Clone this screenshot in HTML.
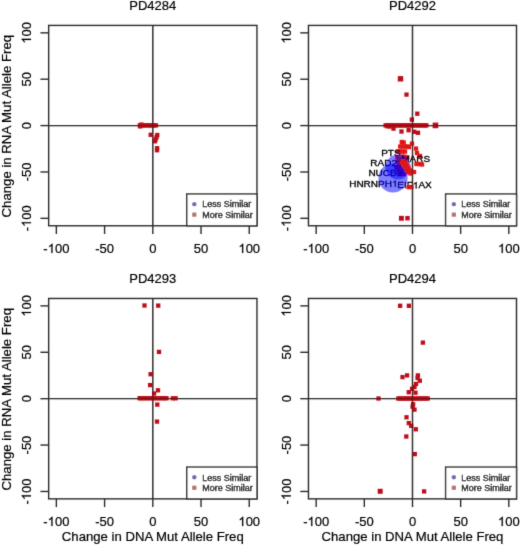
<!DOCTYPE html>
<html><head><meta charset="utf-8"><style>
html,body{margin:0;padding:0;background:#fff;width:520px;height:546px;overflow:hidden}
#wrap{position:relative;width:520px;height:546px}
</style></head><body><div id="wrap">
<svg width="520" height="546" viewBox="0 0 520 546" style="position:absolute;left:0;top:0">
<defs><filter id="soft" x="0" y="0" width="520" height="546" filterUnits="userSpaceOnUse"><feConvolveMatrix order="3" kernelMatrix="0.012 0.084 0.012 0.084 0.616 0.084 0.012 0.084 0.012" divisor="1" edgeMode="none"/></filter></defs>
<rect x="0" y="0" width="520" height="546" fill="#ffffff"/>
<g filter="url(#soft)">
<g><line x1="48.65" y1="125.59" x2="256.95" y2="125.59" stroke="#454545" stroke-width="1.4"/><line x1="152.8" y1="25.42" x2="152.8" y2="225.76" stroke="#454545" stroke-width="1.4"/><rect x="137.65" y="123.25" width="4.3" height="4.3" fill="#bd101a"/><rect x="138.45" y="123.25" width="4.3" height="4.3" fill="#bd101a"/><rect x="139.35" y="123.25" width="4.3" height="4.3" fill="#bd101a"/><rect x="140.85" y="123.25" width="4.3" height="4.3" fill="#bd101a"/><rect x="142.85" y="123.25" width="4.3" height="4.3" fill="#bd101a"/><rect x="144.85" y="123.25" width="4.3" height="4.3" fill="#bd101a"/><rect x="146.85" y="123.25" width="4.3" height="4.3" fill="#bd101a"/><rect x="148.85" y="123.25" width="4.3" height="4.3" fill="#bd101a"/><rect x="150.35" y="123.25" width="4.3" height="4.3" fill="#bd101a"/><rect x="151.85" y="123.25" width="4.3" height="4.3" fill="#bd101a"/><rect x="153.85" y="123.25" width="4.3" height="4.3" fill="#bd101a"/><rect x="138.05" y="124.25" width="4.3" height="4.3" fill="#bd101a"/><rect x="139.25" y="122.45" width="4.3" height="4.3" fill="#bd101a"/><rect x="148.55" y="132.65" width="4.3" height="4.3" fill="#bd101a"/><rect x="155.15" y="132.85" width="4.3" height="4.3" fill="#bd101a"/><rect x="154.35" y="135.15" width="4.3" height="4.3" fill="#bd101a"/><rect x="153.45" y="137.45" width="4.3" height="4.3" fill="#bd101a"/><rect x="152.75" y="139.15" width="4.3" height="4.3" fill="#bd101a"/><rect x="154.95" y="146.05" width="4.3" height="4.3" fill="#bd101a"/><rect x="154.85" y="148.05" width="4.3" height="4.3" fill="#bd101a"/><line x1="48.65" y1="125.59" x2="256.95" y2="125.59" stroke="rgba(30,20,20,0.4)" stroke-width="1.4"/><line x1="152.8" y1="25.42" x2="152.8" y2="225.76" stroke="rgba(30,20,20,0.4)" stroke-width="1.4"/><rect x="48.65" y="25.42" width="208.3" height="200.34" fill="none" stroke="#2c2c2c" stroke-width="1.4"/><line x1="56.36" y1="225.76" x2="56.36" y2="233.96" stroke="#2c2c2c" stroke-width="1.4"/><g transform="translate(56.36,253.01)"><text x="-13.010" y="0" style="font-family:'Liberation Sans', sans-serif;fill:#000;stroke:#000;stroke-width:0.2px;font-size:13px">-</text><path d="M763 0L583 0L583 1147Q518 1085 412 1023Q307 961 223 930L223 1104Q374 1175 487 1276Q600 1377 647 1472L763 1472Z" transform="translate(-8.680,0) scale(0.006348,-0.006348)" fill="#000" stroke="#000" stroke-width="31.5"/><text x="-1.450" y="0" style="font-family:'Liberation Sans', sans-serif;fill:#000;stroke:#000;stroke-width:0.2px;font-size:13px">00</text></g><line x1="48.65" y1="218.34" x2="40.45" y2="218.34" stroke="#2c2c2c" stroke-width="1.4"/><g transform="translate(30.95,218.34) rotate(-90)"><text x="-13.010" y="0" style="font-family:'Liberation Sans', sans-serif;fill:#000;stroke:#000;stroke-width:0.2px;font-size:13px">-</text><path d="M763 0L583 0L583 1147Q518 1085 412 1023Q307 961 223 930L223 1104Q374 1175 487 1276Q600 1377 647 1472L763 1472Z" transform="translate(-8.680,0) scale(0.006348,-0.006348)" fill="#000" stroke="#000" stroke-width="31.5"/><text x="-1.450" y="0" style="font-family:'Liberation Sans', sans-serif;fill:#000;stroke:#000;stroke-width:0.2px;font-size:13px">00</text></g><line x1="104.58" y1="225.76" x2="104.58" y2="233.96" stroke="#2c2c2c" stroke-width="1.4"/><g transform="translate(104.58,253.01)"><text x="-9.395" y="0" style="font-family:'Liberation Sans', sans-serif;fill:#000;stroke:#000;stroke-width:0.2px;font-size:13px">-50</text></g><line x1="48.65" y1="171.97" x2="40.45" y2="171.97" stroke="#2c2c2c" stroke-width="1.4"/><g transform="translate(30.95,171.97) rotate(-90)"><text x="-9.395" y="0" style="font-family:'Liberation Sans', sans-serif;fill:#000;stroke:#000;stroke-width:0.2px;font-size:13px">-50</text></g><line x1="152.8" y1="225.76" x2="152.8" y2="233.96" stroke="#2c2c2c" stroke-width="1.4"/><g transform="translate(152.8,253.01)"><text x="-3.615" y="0" style="font-family:'Liberation Sans', sans-serif;fill:#000;stroke:#000;stroke-width:0.2px;font-size:13px">0</text></g><line x1="48.65" y1="125.59" x2="40.45" y2="125.59" stroke="#2c2c2c" stroke-width="1.4"/><g transform="translate(30.95,125.59) rotate(-90)"><text x="-3.615" y="0" style="font-family:'Liberation Sans', sans-serif;fill:#000;stroke:#000;stroke-width:0.2px;font-size:13px">0</text></g><line x1="201.02" y1="225.76" x2="201.02" y2="233.96" stroke="#2c2c2c" stroke-width="1.4"/><g transform="translate(201.02,253.01)"><text x="-7.230" y="0" style="font-family:'Liberation Sans', sans-serif;fill:#000;stroke:#000;stroke-width:0.2px;font-size:13px">50</text></g><line x1="48.65" y1="79.22" x2="40.45" y2="79.22" stroke="#2c2c2c" stroke-width="1.4"/><g transform="translate(30.95,79.22) rotate(-90)"><text x="-7.230" y="0" style="font-family:'Liberation Sans', sans-serif;fill:#000;stroke:#000;stroke-width:0.2px;font-size:13px">50</text></g><line x1="249.24" y1="225.76" x2="249.24" y2="233.96" stroke="#2c2c2c" stroke-width="1.4"/><g transform="translate(249.24,253.01)"><path d="M763 0L583 0L583 1147Q518 1085 412 1023Q307 961 223 930L223 1104Q374 1175 487 1276Q600 1377 647 1472L763 1472Z" transform="translate(-10.845,0) scale(0.006348,-0.006348)" fill="#000" stroke="#000" stroke-width="31.5"/><text x="-3.615" y="0" style="font-family:'Liberation Sans', sans-serif;fill:#000;stroke:#000;stroke-width:0.2px;font-size:13px">00</text></g><line x1="48.65" y1="32.84" x2="40.45" y2="32.84" stroke="#2c2c2c" stroke-width="1.4"/><g transform="translate(30.95,32.84) rotate(-90)"><path d="M763 0L583 0L583 1147Q518 1085 412 1023Q307 961 223 930L223 1104Q374 1175 487 1276Q600 1377 647 1472L763 1472Z" transform="translate(-10.845,0) scale(0.006348,-0.006348)" fill="#000" stroke="#000" stroke-width="31.5"/><text x="-3.615" y="0" style="font-family:'Liberation Sans', sans-serif;fill:#000;stroke:#000;stroke-width:0.2px;font-size:13px">00</text></g><text x="152.8" y="10.32" text-anchor="middle" style="font-family:'Liberation Sans', sans-serif;fill:#000;stroke:#000;stroke-width:0.2px;font-size:13px">PD4284</text><text transform="translate(10.9,126.19) rotate(-90)" text-anchor="middle" style="font-family:'Liberation Sans', sans-serif;fill:#000;stroke:#000;stroke-width:0.2px;font-size:13.2px">Change in RNA Mut Allele Freq</text><rect x="186.75" y="193.96" width="70.2" height="31.8" fill="#fff" stroke="#2c2c2c" stroke-width="1.4"/><circle cx="194.3" cy="204.16" r="2.2" fill="#6c6cac"/><rect x="192.2" y="212.56" width="4.2" height="4.2" fill="#b27272"/><text transform="translate(202.3,207.41) scale(1,1.1)" style="font-family:'Liberation Sans', sans-serif;fill:#000;stroke:#000;stroke-width:0.2px;font-size:9px;stroke-width:0.35px">Less Similar</text><text transform="translate(202.3,217.71) scale(1,1.1)" style="font-family:'Liberation Sans', sans-serif;fill:#000;stroke:#000;stroke-width:0.2px;font-size:9px;stroke-width:0.35px">More Similar</text></g>
<g><line x1="308.47" y1="125.59" x2="516.5" y2="125.59" stroke="#454545" stroke-width="1.4"/><line x1="412.49" y1="25.42" x2="412.49" y2="225.76" stroke="#454545" stroke-width="1.4"/><rect x="397.8" y="76.1" width="5.4" height="5.4" fill="#bd101a"/><rect x="404.35" y="92.45" width="4.3" height="4.3" fill="#bd101a"/><rect x="415.15" y="111.55" width="4.3" height="4.3" fill="#bd101a"/><rect x="409.75" y="117.45" width="4.3" height="4.3" fill="#bd101a"/><rect x="432.65" y="122.6" width="5.6" height="5.6" fill="#bd101a"/><rect x="391.35" y="126.45" width="4.3" height="4.3" fill="#bd101a"/><rect x="399.35" y="129.35" width="4.3" height="4.3" fill="#bd101a"/><rect x="406.45" y="128.05" width="4.3" height="4.3" fill="#bd101a"/><rect x="412.05" y="129.65" width="4.3" height="4.3" fill="#bd101a"/><rect x="415.85" y="130.65" width="4.3" height="4.3" fill="#bd101a"/><rect x="398.95" y="215.85" width="4.9" height="4.9" fill="#bd101a"/><rect x="405.3" y="216" width="4.4" height="4.4" fill="#bd101a"/><rect x="383.45" y="123.25" width="4.3" height="4.3" fill="#bd101a"/><rect x="384.85" y="123.25" width="4.3" height="4.3" fill="#bd101a"/><rect x="386.85" y="123.25" width="4.3" height="4.3" fill="#bd101a"/><rect x="388.85" y="123.25" width="4.3" height="4.3" fill="#bd101a"/><rect x="390.85" y="123.25" width="4.3" height="4.3" fill="#bd101a"/><rect x="392.85" y="123.25" width="4.3" height="4.3" fill="#bd101a"/><rect x="394.85" y="123.25" width="4.3" height="4.3" fill="#bd101a"/><rect x="396.85" y="123.25" width="4.3" height="4.3" fill="#bd101a"/><rect x="398.85" y="123.25" width="4.3" height="4.3" fill="#bd101a"/><rect x="400.85" y="123.25" width="4.3" height="4.3" fill="#bd101a"/><rect x="402.85" y="123.25" width="4.3" height="4.3" fill="#bd101a"/><rect x="404.85" y="123.25" width="4.3" height="4.3" fill="#bd101a"/><rect x="406.85" y="123.25" width="4.3" height="4.3" fill="#bd101a"/><rect x="408.85" y="123.25" width="4.3" height="4.3" fill="#bd101a"/><rect x="410.85" y="123.25" width="4.3" height="4.3" fill="#bd101a"/><rect x="412.85" y="123.25" width="4.3" height="4.3" fill="#bd101a"/><rect x="414.85" y="123.25" width="4.3" height="4.3" fill="#bd101a"/><rect x="416.85" y="123.25" width="4.3" height="4.3" fill="#bd101a"/><rect x="418.85" y="123.25" width="4.3" height="4.3" fill="#bd101a"/><rect x="420.85" y="123.25" width="4.3" height="4.3" fill="#bd101a"/><rect x="422.85" y="123.25" width="4.3" height="4.3" fill="#bd101a"/><rect x="424.25" y="123.25" width="4.3" height="4.3" fill="#bd101a"/><rect x="385.35" y="124.15" width="4.3" height="4.3" fill="#bd101a"/><rect x="387.85" y="124.35" width="4.3" height="4.3" fill="#bd101a"/><rect x="401.55" y="140.35" width="4.3" height="4.3" fill="#e01414"/><rect x="399.65" y="139.85" width="4.3" height="4.3" fill="#e01414"/><rect x="409.85" y="141.45" width="4.3" height="4.3" fill="#e01414"/><rect x="398.05" y="144.35" width="4.3" height="4.3" fill="#e01414"/><rect x="400.35" y="144.35" width="4.3" height="4.3" fill="#e01414"/><rect x="402.85" y="144.35" width="4.3" height="4.3" fill="#e01414"/><rect x="405.35" y="144.35" width="4.3" height="4.3" fill="#e01414"/><rect x="406.85" y="144.85" width="4.3" height="4.3" fill="#e01414"/><rect x="413.85" y="146.45" width="4.3" height="4.3" fill="#e01414"/><rect x="395.35" y="149.35" width="4.3" height="4.3" fill="#e01414"/><rect x="397.85" y="149.35" width="4.3" height="4.3" fill="#e01414"/><rect x="400.35" y="149.35" width="4.3" height="4.3" fill="#e01414"/><rect x="402.85" y="149.35" width="4.3" height="4.3" fill="#e01414"/><rect x="414.85" y="150.85" width="4.3" height="4.3" fill="#e01414"/><rect x="417.85" y="153.85" width="4.3" height="4.3" fill="#e01414"/><rect x="400.35" y="154.35" width="4.3" height="4.3" fill="#e01414"/><rect x="402.85" y="154.65" width="4.3" height="4.3" fill="#e01414"/><rect x="405.15" y="155.35" width="4.3" height="4.3" fill="#e01414"/><rect x="394.35" y="165.85" width="4.3" height="4.3" fill="#e01414"/><rect x="396.35" y="169.85" width="4.3" height="4.3" fill="#e01414"/><rect x="399.85" y="167.35" width="4.3" height="4.3" fill="#e01414"/><rect x="401.35" y="171.85" width="4.3" height="4.3" fill="#e01414"/><rect x="395.85" y="159.85" width="4.3" height="4.3" fill="#e01414"/><rect x="396.85" y="163.85" width="4.3" height="4.3" fill="#e01414"/><rect x="397.85" y="167.85" width="4.3" height="4.3" fill="#e01414"/><rect x="398.85" y="171.35" width="4.3" height="4.3" fill="#e01414"/><rect x="395.35" y="155.35" width="4.3" height="4.3" fill="#e01414"/><rect x="397.35" y="156.85" width="4.3" height="4.3" fill="#e01414"/><g transform="translate(381.2,155.6) scale(1,0.89)"><text x="0.000" y="0" style="font-family:'Liberation Sans', sans-serif;fill:#000;stroke:#000;stroke-width:0.2px;font-size:10px;stroke-width:0.35px">PTS</text></g><g transform="translate(401.2,161.9) scale(1,0.89)"><text x="0.000" y="0" style="font-family:'Liberation Sans', sans-serif;fill:#000;stroke:#000;stroke-width:0.2px;font-size:10px;stroke-width:0.35px">MARS</text></g><g transform="translate(370.3,166.3) scale(1,0.89)"><text x="0.000" y="0" style="font-family:'Liberation Sans', sans-serif;fill:#000;stroke:#000;stroke-width:0.2px;font-size:10px;stroke-width:0.35px">RAD2</text><path d="M763 0L583 0L583 1147Q518 1085 412 1023Q307 961 223 930L223 1104Q374 1175 487 1276Q600 1377 647 1472L763 1472Z" transform="translate(26.675,0) scale(0.004883,-0.004883)" fill="#000" stroke="#000" stroke-width="71.7"/></g><g transform="translate(368.4,176.4) scale(1,0.89)"><text x="0.000" y="0" style="font-family:'Liberation Sans', sans-serif;fill:#000;stroke:#000;stroke-width:0.2px;font-size:10px;stroke-width:0.35px">NUCB2</text></g><g transform="translate(349.2,186.8) scale(1,0.89)"><text x="0.000" y="0" style="font-family:'Liberation Sans', sans-serif;fill:#000;stroke:#000;stroke-width:0.2px;font-size:10px;stroke-width:0.35px">HNRNPH</text><path d="M763 0L583 0L583 1147Q518 1085 412 1023Q307 961 223 930L223 1104Q374 1175 487 1276Q600 1377 647 1472L763 1472Z" transform="translate(42.778,0) scale(0.004883,-0.004883)" fill="#000" stroke="#000" stroke-width="71.7"/></g><g transform="translate(397.3,188.4) scale(1,0.89)"><text x="0.000" y="0" style="font-family:'Liberation Sans', sans-serif;fill:#000;stroke:#000;stroke-width:0.2px;font-size:10px;stroke-width:0.35px">EIF</text><path d="M763 0L583 0L583 1147Q518 1085 412 1023Q307 961 223 930L223 1104Q374 1175 487 1276Q600 1377 647 1472L763 1472Z" transform="translate(15.557,0) scale(0.004883,-0.004883)" fill="#000" stroke="#000" stroke-width="71.7"/><text x="21.118" y="0" style="font-family:'Liberation Sans', sans-serif;fill:#000;stroke:#000;stroke-width:0.2px;font-size:10px;stroke-width:0.35px">AX</text></g><circle cx="393.0" cy="178.0" r="14.6" fill="rgba(0,0,255,0.5)"/><circle cx="398.0" cy="167.0" r="12.5" fill="rgba(0,0,255,0.5)"/><rect x="399.35" y="160.35" width="4.3" height="4.3" fill="#e01414"/><rect x="401.35" y="162.35" width="4.3" height="4.3" fill="#e01414"/><rect x="402.85" y="164.85" width="4.3" height="4.3" fill="#e01414"/><rect x="404.35" y="167.35" width="4.3" height="4.3" fill="#e01414"/><rect x="406.15" y="169.85" width="4.3" height="4.3" fill="#e01414"/><rect x="408.35" y="171.35" width="4.3" height="4.3" fill="#e01414"/><rect x="400.85" y="158.85" width="4.3" height="4.3" fill="#e01414"/><rect x="403.35" y="160.35" width="4.3" height="4.3" fill="#e01414"/><rect x="404.85" y="163.35" width="4.3" height="4.3" fill="#e01414"/><rect x="406.35" y="165.85" width="4.3" height="4.3" fill="#e01414"/><rect x="407.85" y="168.35" width="4.3" height="4.3" fill="#e01414"/><rect x="411.85" y="169.85" width="4.3" height="4.3" fill="#e01414"/><rect x="414.35" y="161.85" width="4.3" height="4.3" fill="#e01414"/><rect x="417.35" y="161.85" width="4.3" height="4.3" fill="#e01414"/><rect x="419.85" y="162.35" width="4.3" height="4.3" fill="#e01414"/><rect x="406.45" y="184.95" width="4.3" height="4.3" fill="#e01414"/><rect x="409.25" y="184.95" width="4.3" height="4.3" fill="#e01414"/><line x1="308.47" y1="125.59" x2="516.5" y2="125.59" stroke="rgba(30,20,20,0.4)" stroke-width="1.4"/><line x1="412.49" y1="25.42" x2="412.49" y2="225.76" stroke="rgba(30,20,20,0.4)" stroke-width="1.4"/><rect x="308.47" y="25.42" width="208.03" height="200.34" fill="none" stroke="#2c2c2c" stroke-width="1.4"/><line x1="316.17" y1="225.76" x2="316.17" y2="233.96" stroke="#2c2c2c" stroke-width="1.4"/><g transform="translate(316.17,253.01)"><text x="-13.010" y="0" style="font-family:'Liberation Sans', sans-serif;fill:#000;stroke:#000;stroke-width:0.2px;font-size:13px">-</text><path d="M763 0L583 0L583 1147Q518 1085 412 1023Q307 961 223 930L223 1104Q374 1175 487 1276Q600 1377 647 1472L763 1472Z" transform="translate(-8.680,0) scale(0.006348,-0.006348)" fill="#000" stroke="#000" stroke-width="31.5"/><text x="-1.450" y="0" style="font-family:'Liberation Sans', sans-serif;fill:#000;stroke:#000;stroke-width:0.2px;font-size:13px">00</text></g><line x1="308.47" y1="218.34" x2="300.27" y2="218.34" stroke="#2c2c2c" stroke-width="1.4"/><g transform="translate(290.77,218.34) rotate(-90)"><text x="-13.010" y="0" style="font-family:'Liberation Sans', sans-serif;fill:#000;stroke:#000;stroke-width:0.2px;font-size:13px">-</text><path d="M763 0L583 0L583 1147Q518 1085 412 1023Q307 961 223 930L223 1104Q374 1175 487 1276Q600 1377 647 1472L763 1472Z" transform="translate(-8.680,0) scale(0.006348,-0.006348)" fill="#000" stroke="#000" stroke-width="31.5"/><text x="-1.450" y="0" style="font-family:'Liberation Sans', sans-serif;fill:#000;stroke:#000;stroke-width:0.2px;font-size:13px">00</text></g><line x1="364.33" y1="225.76" x2="364.33" y2="233.96" stroke="#2c2c2c" stroke-width="1.4"/><g transform="translate(364.33,253.01)"><text x="-9.395" y="0" style="font-family:'Liberation Sans', sans-serif;fill:#000;stroke:#000;stroke-width:0.2px;font-size:13px">-50</text></g><line x1="308.47" y1="171.97" x2="300.27" y2="171.97" stroke="#2c2c2c" stroke-width="1.4"/><g transform="translate(290.77,171.97) rotate(-90)"><text x="-9.395" y="0" style="font-family:'Liberation Sans', sans-serif;fill:#000;stroke:#000;stroke-width:0.2px;font-size:13px">-50</text></g><line x1="412.49" y1="225.76" x2="412.49" y2="233.96" stroke="#2c2c2c" stroke-width="1.4"/><g transform="translate(412.49,253.01)"><text x="-3.615" y="0" style="font-family:'Liberation Sans', sans-serif;fill:#000;stroke:#000;stroke-width:0.2px;font-size:13px">0</text></g><line x1="308.47" y1="125.59" x2="300.27" y2="125.59" stroke="#2c2c2c" stroke-width="1.4"/><g transform="translate(290.77,125.59) rotate(-90)"><text x="-3.615" y="0" style="font-family:'Liberation Sans', sans-serif;fill:#000;stroke:#000;stroke-width:0.2px;font-size:13px">0</text></g><line x1="460.64" y1="225.76" x2="460.64" y2="233.96" stroke="#2c2c2c" stroke-width="1.4"/><g transform="translate(460.64,253.01)"><text x="-7.230" y="0" style="font-family:'Liberation Sans', sans-serif;fill:#000;stroke:#000;stroke-width:0.2px;font-size:13px">50</text></g><line x1="308.47" y1="79.22" x2="300.27" y2="79.22" stroke="#2c2c2c" stroke-width="1.4"/><g transform="translate(290.77,79.22) rotate(-90)"><text x="-7.230" y="0" style="font-family:'Liberation Sans', sans-serif;fill:#000;stroke:#000;stroke-width:0.2px;font-size:13px">50</text></g><line x1="508.8" y1="225.76" x2="508.8" y2="233.96" stroke="#2c2c2c" stroke-width="1.4"/><g transform="translate(508.8,253.01)"><path d="M763 0L583 0L583 1147Q518 1085 412 1023Q307 961 223 930L223 1104Q374 1175 487 1276Q600 1377 647 1472L763 1472Z" transform="translate(-10.845,0) scale(0.006348,-0.006348)" fill="#000" stroke="#000" stroke-width="31.5"/><text x="-3.615" y="0" style="font-family:'Liberation Sans', sans-serif;fill:#000;stroke:#000;stroke-width:0.2px;font-size:13px">00</text></g><line x1="308.47" y1="32.84" x2="300.27" y2="32.84" stroke="#2c2c2c" stroke-width="1.4"/><g transform="translate(290.77,32.84) rotate(-90)"><path d="M763 0L583 0L583 1147Q518 1085 412 1023Q307 961 223 930L223 1104Q374 1175 487 1276Q600 1377 647 1472L763 1472Z" transform="translate(-10.845,0) scale(0.006348,-0.006348)" fill="#000" stroke="#000" stroke-width="31.5"/><text x="-3.615" y="0" style="font-family:'Liberation Sans', sans-serif;fill:#000;stroke:#000;stroke-width:0.2px;font-size:13px">00</text></g><text x="412.49" y="10.32" text-anchor="middle" style="font-family:'Liberation Sans', sans-serif;fill:#000;stroke:#000;stroke-width:0.2px;font-size:13px">PD4292</text><rect x="445.6" y="193.96" width="70.9" height="31.8" fill="#fff" stroke="#2c2c2c" stroke-width="1.4"/><circle cx="453.85" cy="204.16" r="2.2" fill="#6c6cac"/><rect x="451.75" y="212.56" width="4.2" height="4.2" fill="#b27272"/><text transform="translate(461.3,207.41) scale(1,1.1)" style="font-family:'Liberation Sans', sans-serif;fill:#000;stroke:#000;stroke-width:0.2px;font-size:9px;stroke-width:0.35px">Less Similar</text><text transform="translate(461.3,217.71) scale(1,1.1)" style="font-family:'Liberation Sans', sans-serif;fill:#000;stroke:#000;stroke-width:0.2px;font-size:9px;stroke-width:0.35px">More Similar</text></g>
<g><line x1="48.65" y1="398.67" x2="256.95" y2="398.67" stroke="#454545" stroke-width="1.4"/><line x1="152.8" y1="298.47" x2="152.8" y2="498.87" stroke="#454545" stroke-width="1.4"/><rect x="142.35" y="303.35" width="4.3" height="4.3" fill="#bd101a"/><rect x="156.05" y="303.45" width="4.3" height="4.3" fill="#bd101a"/><rect x="156.85" y="349.75" width="4.3" height="4.3" fill="#bd101a"/><rect x="148.45" y="372.05" width="4.3" height="4.3" fill="#bd101a"/><rect x="147.95" y="382.95" width="4.3" height="4.3" fill="#bd101a"/><rect x="155.85" y="388.15" width="4.3" height="4.3" fill="#bd101a"/><rect x="151.95" y="391.35" width="4.3" height="4.3" fill="#bd101a"/><rect x="155.15" y="402.45" width="4.3" height="4.3" fill="#bd101a"/><rect x="154.85" y="419.45" width="4.3" height="4.3" fill="#bd101a"/><rect x="170.65" y="396.15" width="4.3" height="4.3" fill="#bd101a"/><rect x="173.45" y="396.15" width="4.3" height="4.3" fill="#bd101a"/><rect x="137.45" y="396.05" width="4.3" height="4.3" fill="#bd101a"/><rect x="138.85" y="396.05" width="4.3" height="4.3" fill="#bd101a"/><rect x="140.85" y="396.05" width="4.3" height="4.3" fill="#bd101a"/><rect x="142.85" y="396.05" width="4.3" height="4.3" fill="#bd101a"/><rect x="144.85" y="396.05" width="4.3" height="4.3" fill="#bd101a"/><rect x="146.85" y="396.05" width="4.3" height="4.3" fill="#bd101a"/><rect x="148.85" y="396.05" width="4.3" height="4.3" fill="#bd101a"/><rect x="150.85" y="396.05" width="4.3" height="4.3" fill="#bd101a"/><rect x="152.85" y="396.05" width="4.3" height="4.3" fill="#bd101a"/><rect x="154.85" y="396.05" width="4.3" height="4.3" fill="#bd101a"/><rect x="156.85" y="396.05" width="4.3" height="4.3" fill="#bd101a"/><rect x="158.85" y="396.05" width="4.3" height="4.3" fill="#bd101a"/><rect x="160.85" y="396.05" width="4.3" height="4.3" fill="#bd101a"/><rect x="162.85" y="396.05" width="4.3" height="4.3" fill="#bd101a"/><rect x="164.35" y="396.05" width="4.3" height="4.3" fill="#bd101a"/><line x1="48.65" y1="398.67" x2="256.95" y2="398.67" stroke="rgba(30,20,20,0.4)" stroke-width="1.4"/><line x1="152.8" y1="298.47" x2="152.8" y2="498.87" stroke="rgba(30,20,20,0.4)" stroke-width="1.4"/><rect x="48.65" y="298.47" width="208.3" height="200.4" fill="none" stroke="#2c2c2c" stroke-width="1.4"/><line x1="56.36" y1="498.87" x2="56.36" y2="507.07" stroke="#2c2c2c" stroke-width="1.4"/><g transform="translate(56.36,526.12)"><text x="-13.010" y="0" style="font-family:'Liberation Sans', sans-serif;fill:#000;stroke:#000;stroke-width:0.2px;font-size:13px">-</text><path d="M763 0L583 0L583 1147Q518 1085 412 1023Q307 961 223 930L223 1104Q374 1175 487 1276Q600 1377 647 1472L763 1472Z" transform="translate(-8.680,0) scale(0.006348,-0.006348)" fill="#000" stroke="#000" stroke-width="31.5"/><text x="-1.450" y="0" style="font-family:'Liberation Sans', sans-serif;fill:#000;stroke:#000;stroke-width:0.2px;font-size:13px">00</text></g><line x1="48.65" y1="491.45" x2="40.45" y2="491.45" stroke="#2c2c2c" stroke-width="1.4"/><g transform="translate(30.95,491.45) rotate(-90)"><text x="-13.010" y="0" style="font-family:'Liberation Sans', sans-serif;fill:#000;stroke:#000;stroke-width:0.2px;font-size:13px">-</text><path d="M763 0L583 0L583 1147Q518 1085 412 1023Q307 961 223 930L223 1104Q374 1175 487 1276Q600 1377 647 1472L763 1472Z" transform="translate(-8.680,0) scale(0.006348,-0.006348)" fill="#000" stroke="#000" stroke-width="31.5"/><text x="-1.450" y="0" style="font-family:'Liberation Sans', sans-serif;fill:#000;stroke:#000;stroke-width:0.2px;font-size:13px">00</text></g><line x1="104.58" y1="498.87" x2="104.58" y2="507.07" stroke="#2c2c2c" stroke-width="1.4"/><g transform="translate(104.58,526.12)"><text x="-9.395" y="0" style="font-family:'Liberation Sans', sans-serif;fill:#000;stroke:#000;stroke-width:0.2px;font-size:13px">-50</text></g><line x1="48.65" y1="445.06" x2="40.45" y2="445.06" stroke="#2c2c2c" stroke-width="1.4"/><g transform="translate(30.95,445.06) rotate(-90)"><text x="-9.395" y="0" style="font-family:'Liberation Sans', sans-serif;fill:#000;stroke:#000;stroke-width:0.2px;font-size:13px">-50</text></g><line x1="152.8" y1="498.87" x2="152.8" y2="507.07" stroke="#2c2c2c" stroke-width="1.4"/><g transform="translate(152.8,526.12)"><text x="-3.615" y="0" style="font-family:'Liberation Sans', sans-serif;fill:#000;stroke:#000;stroke-width:0.2px;font-size:13px">0</text></g><line x1="48.65" y1="398.67" x2="40.45" y2="398.67" stroke="#2c2c2c" stroke-width="1.4"/><g transform="translate(30.95,398.67) rotate(-90)"><text x="-3.615" y="0" style="font-family:'Liberation Sans', sans-serif;fill:#000;stroke:#000;stroke-width:0.2px;font-size:13px">0</text></g><line x1="201.02" y1="498.87" x2="201.02" y2="507.07" stroke="#2c2c2c" stroke-width="1.4"/><g transform="translate(201.02,526.12)"><text x="-7.230" y="0" style="font-family:'Liberation Sans', sans-serif;fill:#000;stroke:#000;stroke-width:0.2px;font-size:13px">50</text></g><line x1="48.65" y1="352.28" x2="40.45" y2="352.28" stroke="#2c2c2c" stroke-width="1.4"/><g transform="translate(30.95,352.28) rotate(-90)"><text x="-7.230" y="0" style="font-family:'Liberation Sans', sans-serif;fill:#000;stroke:#000;stroke-width:0.2px;font-size:13px">50</text></g><line x1="249.24" y1="498.87" x2="249.24" y2="507.07" stroke="#2c2c2c" stroke-width="1.4"/><g transform="translate(249.24,526.12)"><path d="M763 0L583 0L583 1147Q518 1085 412 1023Q307 961 223 930L223 1104Q374 1175 487 1276Q600 1377 647 1472L763 1472Z" transform="translate(-10.845,0) scale(0.006348,-0.006348)" fill="#000" stroke="#000" stroke-width="31.5"/><text x="-3.615" y="0" style="font-family:'Liberation Sans', sans-serif;fill:#000;stroke:#000;stroke-width:0.2px;font-size:13px">00</text></g><line x1="48.65" y1="305.89" x2="40.45" y2="305.89" stroke="#2c2c2c" stroke-width="1.4"/><g transform="translate(30.95,305.89) rotate(-90)"><path d="M763 0L583 0L583 1147Q518 1085 412 1023Q307 961 223 930L223 1104Q374 1175 487 1276Q600 1377 647 1472L763 1472Z" transform="translate(-10.845,0) scale(0.006348,-0.006348)" fill="#000" stroke="#000" stroke-width="31.5"/><text x="-3.615" y="0" style="font-family:'Liberation Sans', sans-serif;fill:#000;stroke:#000;stroke-width:0.2px;font-size:13px">00</text></g><text x="152.8" y="283.37" text-anchor="middle" style="font-family:'Liberation Sans', sans-serif;fill:#000;stroke:#000;stroke-width:0.2px;font-size:13px">PD4293</text><text transform="translate(10.9,399.27) rotate(-90)" text-anchor="middle" style="font-family:'Liberation Sans', sans-serif;fill:#000;stroke:#000;stroke-width:0.2px;font-size:13.2px">Change in RNA Mut Allele Freq</text><text x="152.8" y="541.27" text-anchor="middle" style="font-family:'Liberation Sans', sans-serif;fill:#000;stroke:#000;stroke-width:0.2px;font-size:13.15px">Change in DNA Mut Allele Freq</text><rect x="186.75" y="467.07" width="70.2" height="31.8" fill="#fff" stroke="#2c2c2c" stroke-width="1.4"/><circle cx="194.3" cy="477.27" r="2.2" fill="#6c6cac"/><rect x="192.2" y="485.67" width="4.2" height="4.2" fill="#b27272"/><text transform="translate(202.3,480.52) scale(1,1.1)" style="font-family:'Liberation Sans', sans-serif;fill:#000;stroke:#000;stroke-width:0.2px;font-size:9px;stroke-width:0.35px">Less Similar</text><text transform="translate(202.3,490.82) scale(1,1.1)" style="font-family:'Liberation Sans', sans-serif;fill:#000;stroke:#000;stroke-width:0.2px;font-size:9px;stroke-width:0.35px">More Similar</text></g>
<g><line x1="308.47" y1="398.67" x2="516.5" y2="398.67" stroke="#454545" stroke-width="1.4"/><line x1="412.49" y1="298.47" x2="412.49" y2="498.87" stroke="#454545" stroke-width="1.4"/><rect x="397.95" y="303.65" width="4.3" height="4.3" fill="#bd101a"/><rect x="406.75" y="303.65" width="4.3" height="4.3" fill="#bd101a"/><rect x="420.75" y="340.45" width="4.3" height="4.3" fill="#bd101a"/><rect x="400.35" y="374.95" width="4.3" height="4.3" fill="#bd101a"/><rect x="404.95" y="373.25" width="4.3" height="4.3" fill="#bd101a"/><rect x="415.75" y="373.25" width="4.3" height="4.3" fill="#bd101a"/><rect x="417.65" y="378.55" width="4.3" height="4.3" fill="#bd101a"/><rect x="413.85" y="381.85" width="4.3" height="4.3" fill="#bd101a"/><rect x="412.35" y="384.75" width="4.3" height="4.3" fill="#bd101a"/><rect x="406.65" y="390.05" width="4.3" height="4.3" fill="#bd101a"/><rect x="409.95" y="386.65" width="4.3" height="4.3" fill="#bd101a"/><rect x="413.35" y="390.55" width="4.3" height="4.3" fill="#bd101a"/><rect x="410.95" y="402.05" width="4.3" height="4.3" fill="#bd101a"/><rect x="410.45" y="404.55" width="4.3" height="4.3" fill="#bd101a"/><rect x="412.35" y="407.45" width="4.3" height="4.3" fill="#bd101a"/><rect x="404.35" y="415.15" width="4.3" height="4.3" fill="#bd101a"/><rect x="406.65" y="420.95" width="4.3" height="4.3" fill="#bd101a"/><rect x="409.05" y="423.65" width="4.3" height="4.3" fill="#bd101a"/><rect x="413.65" y="427.15" width="4.3" height="4.3" fill="#bd101a"/><rect x="404.15" y="434.35" width="4.3" height="4.3" fill="#bd101a"/><rect x="412.65" y="451.95" width="4.3" height="4.3" fill="#bd101a"/><rect x="377.7" y="488.8" width="5" height="5" fill="#bd101a"/><rect x="421.95" y="489.25" width="4.3" height="4.3" fill="#bd101a"/><rect x="376.35" y="396.35" width="4.3" height="4.3" fill="#bd101a"/><rect x="415.45" y="375.85" width="4.3" height="4.3" fill="#bd101a"/><rect x="396.15" y="396.35" width="4.3" height="4.3" fill="#bd101a"/><rect x="397.85" y="396.35" width="4.3" height="4.3" fill="#bd101a"/><rect x="399.85" y="396.35" width="4.3" height="4.3" fill="#bd101a"/><rect x="401.85" y="396.35" width="4.3" height="4.3" fill="#bd101a"/><rect x="403.85" y="396.35" width="4.3" height="4.3" fill="#bd101a"/><rect x="405.85" y="396.35" width="4.3" height="4.3" fill="#bd101a"/><rect x="407.85" y="396.35" width="4.3" height="4.3" fill="#bd101a"/><rect x="409.85" y="396.35" width="4.3" height="4.3" fill="#bd101a"/><rect x="411.85" y="396.35" width="4.3" height="4.3" fill="#bd101a"/><rect x="413.85" y="396.35" width="4.3" height="4.3" fill="#bd101a"/><rect x="415.85" y="396.35" width="4.3" height="4.3" fill="#bd101a"/><rect x="417.85" y="396.35" width="4.3" height="4.3" fill="#bd101a"/><rect x="419.85" y="396.35" width="4.3" height="4.3" fill="#bd101a"/><rect x="421.85" y="396.35" width="4.3" height="4.3" fill="#bd101a"/><rect x="423.85" y="396.35" width="4.3" height="4.3" fill="#bd101a"/><rect x="425.65" y="396.35" width="4.3" height="4.3" fill="#bd101a"/><line x1="308.47" y1="398.67" x2="516.5" y2="398.67" stroke="rgba(30,20,20,0.4)" stroke-width="1.4"/><line x1="412.49" y1="298.47" x2="412.49" y2="498.87" stroke="rgba(30,20,20,0.4)" stroke-width="1.4"/><rect x="308.47" y="298.47" width="208.03" height="200.4" fill="none" stroke="#2c2c2c" stroke-width="1.4"/><line x1="316.17" y1="498.87" x2="316.17" y2="507.07" stroke="#2c2c2c" stroke-width="1.4"/><g transform="translate(316.17,526.12)"><text x="-13.010" y="0" style="font-family:'Liberation Sans', sans-serif;fill:#000;stroke:#000;stroke-width:0.2px;font-size:13px">-</text><path d="M763 0L583 0L583 1147Q518 1085 412 1023Q307 961 223 930L223 1104Q374 1175 487 1276Q600 1377 647 1472L763 1472Z" transform="translate(-8.680,0) scale(0.006348,-0.006348)" fill="#000" stroke="#000" stroke-width="31.5"/><text x="-1.450" y="0" style="font-family:'Liberation Sans', sans-serif;fill:#000;stroke:#000;stroke-width:0.2px;font-size:13px">00</text></g><line x1="308.47" y1="491.45" x2="300.27" y2="491.45" stroke="#2c2c2c" stroke-width="1.4"/><g transform="translate(290.77,491.45) rotate(-90)"><text x="-13.010" y="0" style="font-family:'Liberation Sans', sans-serif;fill:#000;stroke:#000;stroke-width:0.2px;font-size:13px">-</text><path d="M763 0L583 0L583 1147Q518 1085 412 1023Q307 961 223 930L223 1104Q374 1175 487 1276Q600 1377 647 1472L763 1472Z" transform="translate(-8.680,0) scale(0.006348,-0.006348)" fill="#000" stroke="#000" stroke-width="31.5"/><text x="-1.450" y="0" style="font-family:'Liberation Sans', sans-serif;fill:#000;stroke:#000;stroke-width:0.2px;font-size:13px">00</text></g><line x1="364.33" y1="498.87" x2="364.33" y2="507.07" stroke="#2c2c2c" stroke-width="1.4"/><g transform="translate(364.33,526.12)"><text x="-9.395" y="0" style="font-family:'Liberation Sans', sans-serif;fill:#000;stroke:#000;stroke-width:0.2px;font-size:13px">-50</text></g><line x1="308.47" y1="445.06" x2="300.27" y2="445.06" stroke="#2c2c2c" stroke-width="1.4"/><g transform="translate(290.77,445.06) rotate(-90)"><text x="-9.395" y="0" style="font-family:'Liberation Sans', sans-serif;fill:#000;stroke:#000;stroke-width:0.2px;font-size:13px">-50</text></g><line x1="412.49" y1="498.87" x2="412.49" y2="507.07" stroke="#2c2c2c" stroke-width="1.4"/><g transform="translate(412.49,526.12)"><text x="-3.615" y="0" style="font-family:'Liberation Sans', sans-serif;fill:#000;stroke:#000;stroke-width:0.2px;font-size:13px">0</text></g><line x1="308.47" y1="398.67" x2="300.27" y2="398.67" stroke="#2c2c2c" stroke-width="1.4"/><g transform="translate(290.77,398.67) rotate(-90)"><text x="-3.615" y="0" style="font-family:'Liberation Sans', sans-serif;fill:#000;stroke:#000;stroke-width:0.2px;font-size:13px">0</text></g><line x1="460.64" y1="498.87" x2="460.64" y2="507.07" stroke="#2c2c2c" stroke-width="1.4"/><g transform="translate(460.64,526.12)"><text x="-7.230" y="0" style="font-family:'Liberation Sans', sans-serif;fill:#000;stroke:#000;stroke-width:0.2px;font-size:13px">50</text></g><line x1="308.47" y1="352.28" x2="300.27" y2="352.28" stroke="#2c2c2c" stroke-width="1.4"/><g transform="translate(290.77,352.28) rotate(-90)"><text x="-7.230" y="0" style="font-family:'Liberation Sans', sans-serif;fill:#000;stroke:#000;stroke-width:0.2px;font-size:13px">50</text></g><line x1="508.8" y1="498.87" x2="508.8" y2="507.07" stroke="#2c2c2c" stroke-width="1.4"/><g transform="translate(508.8,526.12)"><path d="M763 0L583 0L583 1147Q518 1085 412 1023Q307 961 223 930L223 1104Q374 1175 487 1276Q600 1377 647 1472L763 1472Z" transform="translate(-10.845,0) scale(0.006348,-0.006348)" fill="#000" stroke="#000" stroke-width="31.5"/><text x="-3.615" y="0" style="font-family:'Liberation Sans', sans-serif;fill:#000;stroke:#000;stroke-width:0.2px;font-size:13px">00</text></g><line x1="308.47" y1="305.89" x2="300.27" y2="305.89" stroke="#2c2c2c" stroke-width="1.4"/><g transform="translate(290.77,305.89) rotate(-90)"><path d="M763 0L583 0L583 1147Q518 1085 412 1023Q307 961 223 930L223 1104Q374 1175 487 1276Q600 1377 647 1472L763 1472Z" transform="translate(-10.845,0) scale(0.006348,-0.006348)" fill="#000" stroke="#000" stroke-width="31.5"/><text x="-3.615" y="0" style="font-family:'Liberation Sans', sans-serif;fill:#000;stroke:#000;stroke-width:0.2px;font-size:13px">00</text></g><text x="412.49" y="283.37" text-anchor="middle" style="font-family:'Liberation Sans', sans-serif;fill:#000;stroke:#000;stroke-width:0.2px;font-size:13px">PD4294</text><text x="412.49" y="541.27" text-anchor="middle" style="font-family:'Liberation Sans', sans-serif;fill:#000;stroke:#000;stroke-width:0.2px;font-size:13.15px">Change in DNA Mut Allele Freq</text><rect x="445.6" y="467.07" width="70.9" height="31.8" fill="#fff" stroke="#2c2c2c" stroke-width="1.4"/><circle cx="453.85" cy="477.27" r="2.2" fill="#6c6cac"/><rect x="451.75" y="485.67" width="4.2" height="4.2" fill="#b27272"/><text transform="translate(461.3,480.52) scale(1,1.1)" style="font-family:'Liberation Sans', sans-serif;fill:#000;stroke:#000;stroke-width:0.2px;font-size:9px;stroke-width:0.35px">Less Similar</text><text transform="translate(461.3,490.82) scale(1,1.1)" style="font-family:'Liberation Sans', sans-serif;fill:#000;stroke:#000;stroke-width:0.2px;font-size:9px;stroke-width:0.35px">More Similar</text></g>
</g></svg>
</div></body></html>
